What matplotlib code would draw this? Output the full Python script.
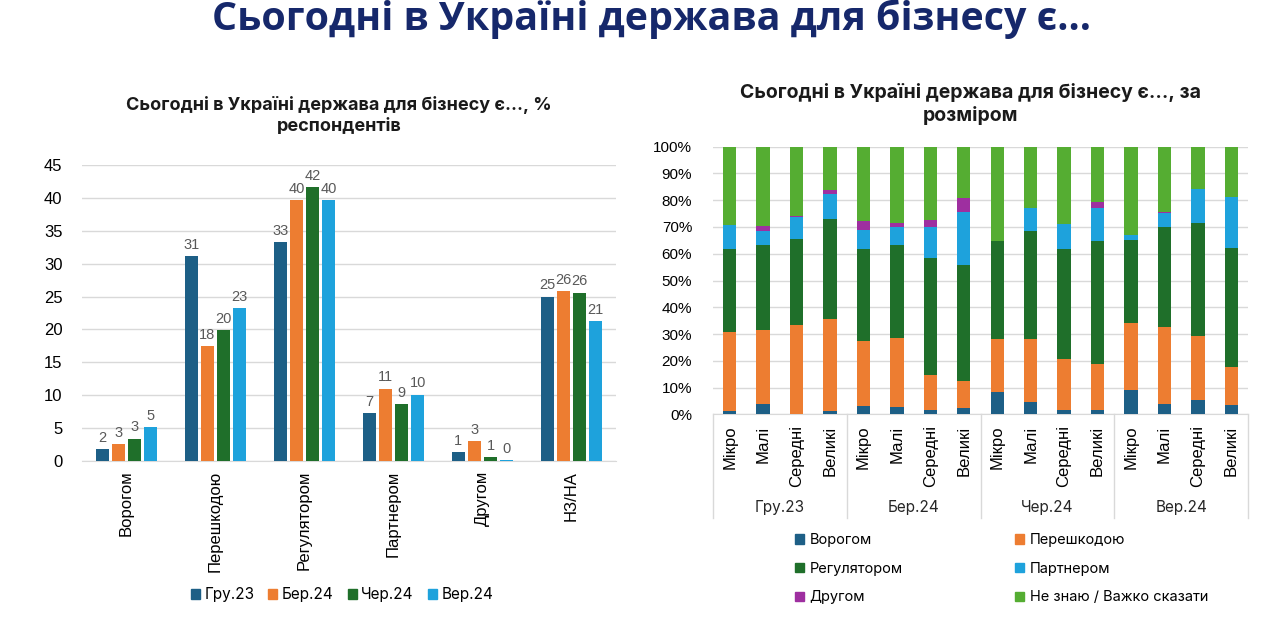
import matplotlib
matplotlib.use('Agg')
import matplotlib.pyplot as plt
import numpy as np
from matplotlib.patches import Patch

# Дані: ліва діаграма (% респондентів)
categories = ['Ворогом', 'Перешкодою', 'Регулятором', 'Партнером', 'Другом', 'НЗ/НА']
waves = ['Гру.23', 'Бер.24', 'Чер.24', 'Вер.24']
gru23 = [1.8, 31.2, 33.3, 7.3, 1.3, 25.0]
ber24 = [2.6, 17.5, 39.7, 11.0, 3.0, 25.8]
cher24 = [3.4, 19.9, 41.7, 8.7, 0.6, 25.6]
ver24 = [5.2, 23.2, 39.7, 10.1, 0.2, 21.3]

# Дані: права діаграма (за розміром бізнесу)
sizes = ['Мікро', 'Малі', 'Середні', 'Великі']
segments = ['Ворогом', 'Перешкодою', 'Регулятором', 'Партнером', 'Другом', 'Не знаю / Важко сказати']
vorogom = [1.4, 3.7, 0.0, 1.4, 3.0, 2.7, 1.7, 2.5, 8.5, 4.6, 1.5, 1.5, 9.1, 4.0, 5.4, 3.5]
pereshkodoyu = [29.4, 27.7, 33.4, 34.2, 24.4, 25.9, 13.0, 10.0, 19.5, 23.4, 19.0, 17.2, 25.1, 28.8, 23.9, 14.3]
regulyatorom = [30.8, 31.7, 32.2, 37.4, 34.2, 34.5, 43.8, 43.3, 36.8, 40.6, 41.3, 46.2, 31.1, 37.1, 42.3, 44.3]
partnerom = [9.1, 5.4, 8.0, 9.3, 7.3, 7.0, 11.5, 19.9, 0.0, 8.6, 9.4, 12.3, 1.8, 5.2, 12.5, 19.0]
drugom = [0.0, 1.7, 0.6, 1.5, 3.5, 1.5, 2.6, 5.2, 0.0, 0.0, 0.0, 2.3, 0.0, 0.6, 0.0, 0.0]
ne_znayu = [29.3, 29.8, 25.8, 16.2, 27.6, 28.4, 27.4, 19.1, 35.2, 22.8, 28.8, 20.5, 32.9, 24.3, 15.9, 18.9]

colors = ['#1d5f86', '#ed7d31', '#1f6f2a', '#1ea2dc', '#9e2fa0', '#55ad32']

fig = plt.figure(figsize=(12.8, 6.31), dpi=100)

fig.text(652 / 1280, 0.970, 'Сьогодні в Україні держава для бізнесу є...', ha='center', va='center',
         fontsize=28.4, fontweight='bold', color='#16286b', family='Open Sans')

# ---------- Ліва діаграма ----------
ax1 = fig.add_axes([82 / 1280, 1 - 461 / 631, (616 - 82) / 1280, (461 - 165) / 631])
x = np.arange(len(categories))
step = 0.182
width = 0.143
for i, (vals, name) in enumerate(zip([gru23, ber24, cher24, ver24], waves)):
    pos = x + (i - 1.5) * step
    bars = ax1.bar(pos, vals, width, color=colors[i], label=name, zorder=3)
    ax1.bar_label(bars, labels=[f'{v:.0f}' for v in vals], padding=3,
                  fontsize=10.5, color='#595959', family='Liberation Sans')

ax1.set_xlim(-0.5, len(categories) - 0.5)
ax1.set_ylim(0, 45)
ax1.set_yticks(range(0, 46, 5))
ax1.yaxis.grid(True, color='#d9d9d9', linewidth=1, zorder=0)
ax1.set_xticks(x)
ax1.set_xticklabels(categories, rotation=90, fontsize=12, family='Liberation Sans')
ax1.tick_params(axis='x', length=0, pad=7)
ax1.tick_params(axis='y', length=0, pad=14, labelsize=12)
for lab in ax1.get_yticklabels():
    lab.set_family('Liberation Sans')
for s in ['top', 'right', 'left']:
    ax1.spines[s].set_visible(False)
ax1.spines['bottom'].set_color('#d9d9d9')

fig.text(339 / 1280, 1 - 115.5 / 631, 'Сьогодні в Україні держава для бізнесу є..., %\nреспондентів',
         ha='center', va='center', fontsize=13, fontweight='bold', family='Inter',
         color='#1a1a1a', linespacing=1.35)

h1 = [Patch(color=colors[i]) for i in range(4)]
fig.legend(h1, waves, loc='center', bbox_to_anchor=(342 / 1280, 1 - 595 / 631), ncol=4,
           frameon=False, handlelength=0.6, handleheight=0.6, handletextpad=0.3,
           columnspacing=0.9, prop={'family': 'Inter', 'size': 11})

# ---------- Права діаграма ----------
ax2 = fig.add_axes([713 / 1280, 1 - 414.3 / 631, (1248 - 713) / 1280, (414.3 - 146.7) / 631])
xs = np.arange(16)
bottom = np.zeros(16)
seg_data = [vorogom, pereshkodoyu, regulyatorom, partnerom, drugom, ne_znayu]
for vals, name, c in zip(seg_data, segments, colors):
    ax2.bar(xs, vals, 0.4, bottom=bottom, color=c, label=name, zorder=3)
    bottom += np.array(vals)

ax2.set_xlim(-0.5, 15.5)
ax2.set_ylim(0, 100)
ax2.set_yticks(range(0, 101, 10))
ax2.set_yticklabels([f'{v}%' for v in range(0, 101, 10)], family='Liberation Sans', fontsize=11)
ax2.yaxis.grid(True, color='#d9d9d9', linewidth=1, zorder=0)
ax2.set_xticks(xs)
ax2.set_xticklabels(sizes * 4, rotation=90, fontsize=12, family='Liberation Sans')
ax2.tick_params(axis='x', length=0, pad=8)
ax2.tick_params(axis='y', length=0, pad=15)
for s in ['top', 'right', 'left']:
    ax2.spines[s].set_visible(False)
ax2.spines['bottom'].set_color('#d9d9d9')

tr = ax2.get_xaxis_transform()
for b in [-0.5, 3.5, 7.5, 11.5, 15.5]:
    ax2.plot([b, b], [0, -0.3875], transform=tr, color='#d9d9d9', linewidth=1, clip_on=False)
for g, name in enumerate(waves):
    ax2.text(g * 4 + 1.5, -0.35, name, transform=tr, ha='center', va='center',
             fontsize=11, family='Inter', color='#262626')

fig.text(971 / 1280, 1 - 104 / 631, 'Сьогодні в Україні держава для бізнесу є..., за\nрозміром',
         ha='center', va='center', fontsize=14, fontweight='bold', family='Inter',
         color='#1a1a1a', linespacing=1.3)

h2 = [Patch(color=c) for c in colors]
leg_a = fig.legend([h2[0], h2[2], h2[4]], [segments[0], segments[2], segments[4]],
                   loc='upper left', bbox_to_anchor=(782 / 1280, 1 - 520 / 631), frameon=False,
                   handlelength=0.6, handleheight=0.6, handletextpad=0.4, labelspacing=1.0,
                   prop={'family': 'Inter', 'size': 10.5})
leg_b = fig.legend([h2[1], h2[3], h2[5]], [segments[1], segments[3], segments[5]],
                   loc='upper left', bbox_to_anchor=(1002 / 1280, 1 - 520 / 631), frameon=False,
                   handlelength=0.6, handleheight=0.6, handletextpad=0.4, labelspacing=1.0,
                   prop={'family': 'Inter', 'size': 10.5})

plt.savefig('out.png', dpi=100)
